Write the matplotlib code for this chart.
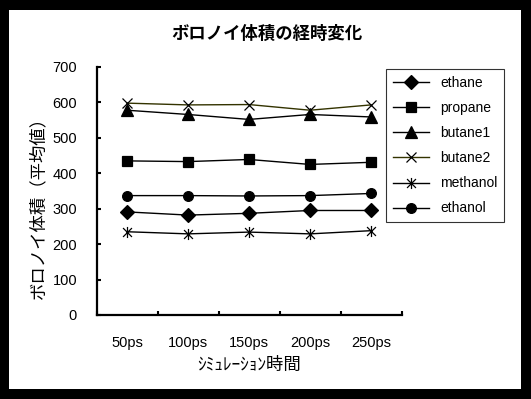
import matplotlib.pyplot as plt
import numpy as np
from matplotlib.path import Path
from matplotlib.patches import Rectangle

plt.rcParams['font.family'] = ['Liberation Sans', 'Noto Sans CJK JP']

# データ
times = ['50ps', '100ps', '150ps', '200ps', '250ps']
ethane = [291, 282, 287, 295, 295]
propane = [435, 433, 439, 425, 431]
butane1 = [578, 566, 552, 566, 559]
butane2 = [598, 593, 594, 578, 593]
methanol = [235, 229, 234, 229, 238]
ethanol = [337, 337, 336, 337, 343]

# Excel風のアスタリスク(縦線+X)
star = Path([(0, -1), (0, 1), (-0.8, -0.8), (0.8, 0.8), (-0.8, 0.8), (0.8, -0.8)],
            [Path.MOVETO, Path.LINETO, Path.MOVETO, Path.LINETO, Path.MOVETO, Path.LINETO])

series = [
    ('ethane', ethane, 'D', 7, 'black'),
    ('propane', propane, 's', 6.5, 'black'),
    ('butane1', butane1, '^', 8, 'black'),
    ('butane2', butane2, 'x', 7.5, '#333300'),
    ('methanol', methanol, star, 8, 'black'),
    ('ethanol', ethanol, 'o', 7, 'black'),
]

fig = plt.figure(figsize=(5.31, 3.99), dpi=100, facecolor='black')
bg = Rectangle((9 / 531, 10 / 399), 512 / 531, 379 / 399,
               transform=fig.transFigure, facecolor='white', edgecolor='none')
bg.set_zorder(-10)
fig.add_artist(bg)

ax = fig.add_axes([96.5 / 531, (399 - 315) / 399, 305 / 531, 248 / 399])
ax.set_facecolor('white')

x = np.arange(len(times))
for name, vals, mk, ms, col in series:
    ax.plot(x, vals, color=col, linewidth=1.0, marker=mk, markersize=ms,
            markerfacecolor='black', markeredgecolor='black',
            markeredgewidth=0.9, label=name)

ax.set_xlim(-0.5, 4.5)
ax.set_ylim(0, 700)
ax.set_yticks(np.arange(0, 701, 100))

ax.set_xticks(np.arange(-0.5, 4.6, 1.0))
ax.set_xticklabels([])
ax.set_xticks(x, minor=True)
ax.set_xticklabels(times, minor=True)
ax.tick_params(axis='x', which='major', direction='in', length=3, width=1.5)
ax.tick_params(axis='x', which='minor', length=0, pad=15, labelsize=10.5)
ax.tick_params(axis='y', direction='in', length=3, width=1.5, pad=14, labelsize=10.5)

for s in ['top', 'right']:
    ax.spines[s].set_visible(False)
for s in ['left', 'bottom']:
    ax.spines[s].set_linewidth(1.6)

ax.set_xlabel('ｼﾐｭﾚｰｼｮﾝ時間', fontsize=12.5, labelpad=5)
fig.text(38 / 531, 1 - 203 / 399, 'ボロノイ体積（平均値）', rotation=90,
         ha='center', va='center', fontsize=12.5)
fig.text(267 / 531, 1 - 33 / 399, 'ボロノイ体積の経時変化', ha='center',
         va='center', fontsize=12.5, fontweight='bold')

leg = ax.legend(loc='upper left', bbox_to_anchor=(386 / 531, 1 - 69 / 399),
                bbox_transform=fig.transFigure, frameon=True, fancybox=False,
                edgecolor='black', fontsize=10, handlelength=2.6,
                labelspacing=0.8, borderpad=0.5, handletextpad=0.8,
                borderaxespad=0)
leg.get_frame().set_linewidth(0.8)

fig.savefig('out.png', dpi=100, facecolor='black')
